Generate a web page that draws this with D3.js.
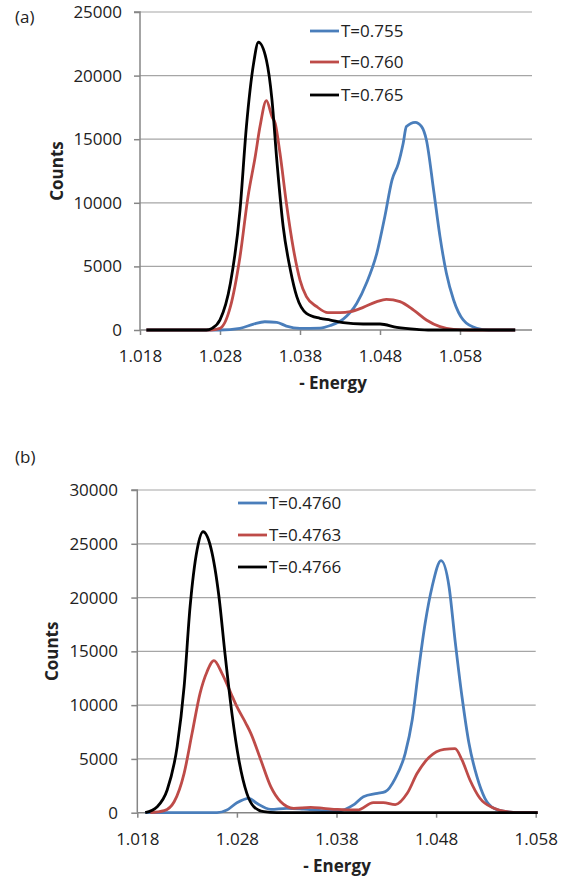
<!DOCTYPE html>
<html><head><meta charset="utf-8">
<script src="https://cdn.jsdelivr.net/npm/d3@7"></script>
<style>
body{margin:0;background:#fff;}
svg{display:block;}
text{font-family:"Open Sans",sans-serif;fill:#222;}
</style></head>
<body>
<svg id="c" width="567" height="877"></svg>
<script>
// ---------- data (a) ----------
const xTicksA = [1.018, 1.028, 1.038, 1.048, 1.058];
const yTicksA = [0, 5000, 10000, 15000, 20000, 25000];
const labelsA = ["T=0.755", "T=0.760", "T=0.765"];
const blueA = [[1.0188,0],[1.028,0],[1.0305,130],[1.0322,470],[1.0336,650],[1.0351,600],[1.0363,310],[1.038,130],[1.0405,150],[1.0418,350],[1.0434,850],[1.0451,2100],[1.0463,3670],[1.0476,6030],[1.0486,8910],[1.0495,11790],[1.0503,13100],[1.0509,14680],[1.0513,15990],[1.0524,16330],[1.0532,15990],[1.0538,14940],[1.0547,11010],[1.0555,7340],[1.0563,4460],[1.0572,2360],[1.0584,790],[1.0601,130],[1.0616,0],[1.0649,0]];
const redA = [[1.0188,0],[1.0268,0],[1.028,130],[1.0293,1830],[1.0305,5760],[1.0315,10480],[1.0324,13620],[1.033,15990],[1.0338,18030],[1.0345,16770],[1.0349,16250],[1.0355,13890],[1.0363,9960],[1.0372,6290],[1.038,3930],[1.0388,2620],[1.0401,1830],[1.0415,1360],[1.043,1360],[1.0443,1440],[1.0459,1780],[1.0476,2230],[1.0488,2410],[1.0505,2230],[1.0522,1570],[1.0538,790],[1.0555,260],[1.0572,50],[1.0593,0],[1.0649,0]];
const blackA = [[1.0188,0],[1.0263,0],[1.027,130],[1.028,790],[1.0293,3670],[1.0305,9430],[1.0313,15990],[1.0322,20960],[1.0328,22620],[1.0338,21230],[1.0345,18080],[1.0351,13360],[1.0359,8120],[1.0368,4720],[1.0376,2620],[1.0388,1310],[1.0405,920],[1.0418,780],[1.0434,580],[1.0459,470],[1.048,470],[1.0501,210],[1.0526,50],[1.054,0],[1.0649,0]];

// ---------- data (b) ----------
const xTicksB = [1.018, 1.028, 1.038, 1.048, 1.058];
const yTicksB = [0, 5000, 10000, 15000, 20000, 25000, 30000];
const labelsB = ["T=0.4760", "T=0.4763", "T=0.4766"];
const blueB = [[1.0188,0],[1.026,0],[1.027,250],[1.028,930],[1.0292,1340],[1.03,870],[1.0314,310],[1.033,410],[1.0347,330],[1.0367,190],[1.0381,150],[1.0397,720],[1.0407,1490],[1.0421,1800],[1.0429,1960],[1.0439,3200],[1.0449,5520],[1.0456,8620],[1.0462,12960],[1.0469,17610],[1.0476,21010],[1.0485,23430],[1.0493,21010],[1.0499,16050],[1.0506,10780],[1.0513,6450],[1.0521,3350],[1.0529,1340],[1.0538,410],[1.0551,90],[1.0568,0],[1.0582,0]];
const redB = [[1.0193,0],[1.0207,190],[1.0217,1020],[1.0227,3660],[1.0235,7380],[1.0243,11100],[1.025,13110],[1.0257,14130],[1.0265,12960],[1.0274,11100],[1.028,9860],[1.0289,8310],[1.0294,7380],[1.0304,4900],[1.0314,2420],[1.0324,1020],[1.0337,410],[1.0354,500],[1.0367,410],[1.0381,300],[1.0401,250],[1.0417,930],[1.0427,930],[1.0439,750],[1.0451,1800],[1.0461,3660],[1.0473,5150],[1.0488,5890],[1.0499,5950],[1.0506,4900],[1.0514,3040],[1.0524,1340],[1.0538,410],[1.0551,90],[1.0568,0],[1.0582,0]];
const blackB = [[1.0188,0],[1.02,560],[1.021,2110],[1.022,6140],[1.0227,11710],[1.0233,19150],[1.024,24420],[1.0246,26120],[1.0254,24580],[1.0262,20080],[1.0268,14820],[1.0275,9240],[1.0282,4900],[1.029,1800],[1.0297,560],[1.0307,90],[1.032,0],[1.0582,0]];

const colors = ["#4a7ebb", "#be4b48", "#000000"];

const svg = d3.select("#c");

function drawChart(cfg) {
  const g = svg.append("g");
  const x = d3.scaleLinear().domain(cfg.xDomain).range([cfg.left, cfg.right]);
  const y = d3.scaleLinear().domain(cfg.yDomain).range([cfg.bottom, cfg.top]);

  // gridlines
  g.append("g").selectAll("line").data(cfg.yTicks.filter(d => d > 0)).join("line")
    .attr("x1", cfg.left).attr("x2", cfg.right)
    .attr("y1", d => y(d)).attr("y2", d => y(d))
    .attr("stroke", "#a6a6a6").attr("stroke-width", 1.2);

  // y axis
  const yAxis = d3.axisLeft(y).tickValues(cfg.yTicks).tickSize(6).tickPadding(12).tickFormat(d3.format("d"));
  const ya = g.append("g").attr("transform", `translate(${cfg.left},0)`).call(yAxis);
  ya.select(".domain").attr("stroke", "#868686").attr("stroke-width", 1.5).attr("d", `M-6,${y(cfg.yDomain[1])}H0V${cfg.bottom}`);
  ya.selectAll(".tick line").attr("stroke", "#868686").attr("stroke-width", 1.5);
  ya.selectAll(".tick text").attr("font-size", 17).attr("font-family", "Open Sans").attr("fill", "#222").attr("x", cfg.yLabelX - cfg.left);

  // x axis
  const xAxis = d3.axisBottom(x).tickValues(cfg.xTicks).tickSize(5).tickPadding(14).tickFormat(d3.format(".3f"));
  const xa = g.append("g").attr("transform", `translate(0,${cfg.bottom})`).call(xAxis);
  xa.select(".domain").attr("stroke", "#868686").attr("stroke-width", 1.5).attr("d", `M${cfg.left},0H${cfg.right}`);
  xa.selectAll(".tick line").attr("stroke", "#868686").attr("stroke-width", 1.5);
  xa.selectAll(".tick text").attr("font-size", 17).attr("font-family", "Open Sans").attr("fill", "#222")
    .attr("y", cfg.xLabelY - cfg.bottom).attr("dy", "0.35em");

  // series
  const line = d3.line().x(d => x(d[0])).y(d => y(d[1])).curve(d3.curveMonotoneX);
  cfg.series.forEach((s, i) => {
    g.append("path").datum(s).attr("d", line).attr("fill", "none")
      .attr("stroke", colors[i]).attr("stroke-width", 2.8).attr("stroke-linejoin", "round");
  });

  // legend
  cfg.labels.forEach((lab, i) => {
    const ly = cfg.legY[i];
    g.append("line").attr("x1", cfg.legX).attr("x2", cfg.legX + 29).attr("y1", ly).attr("y2", ly)
      .attr("stroke", colors[i]).attr("stroke-width", 2.8);
    g.append("text").attr("x", cfg.legX + 31).attr("y", ly).attr("dy", "0.35em")
      .attr("font-size", 17).text(lab);
  });

  // titles
  g.append("text").attr("transform", `translate(${cfg.yTitleX},${(cfg.top + cfg.bottom) / 2}) rotate(-90)`)
    .attr("text-anchor", "middle").attr("dy", "0.35em").attr("font-size", 17).attr("font-weight", "bold").text("Counts");
  g.append("text").attr("x", cfg.xTitleX).attr("y", cfg.xTitleY).attr("dy", "0.35em")
    .attr("text-anchor", "middle").attr("font-size", 17).attr("font-weight", "bold").text("- Energy");
  g.append("text").attr("x", 15).attr("y", cfg.panelY).attr("dy", "0.35em").attr("font-size", 17).text(cfg.panel);
}

drawChart({
  xDomain: [1.018, 1.067], yDomain: [0, 25000],
  left: 140, right: 532, top: 12, bottom: 330,
  xTicks: xTicksA, yTicks: yTicksA, labels: labelsA,
  series: [blueA, redA, blackA],
  yLabelX: 122, xLabelY: 356,
  legX: 310, legY: [31, 62, 95],
  yTitleX: 57, xTitleX: 333, xTitleY: 383,
  panel: "(a)", panelY: 17
});

drawChart({
  xDomain: [1.018, 1.058], yDomain: [0, 30000],
  left: 137.3, right: 535.7, top: 490, bottom: 812.7,
  xTicks: xTicksB, yTicks: yTicksB, labels: labelsB,
  series: [blueB, redB, blackB],
  yLabelX: 118, xLabelY: 839,
  legX: 238, legY: [503, 535, 567],
  yTitleX: 52, xTitleX: 337, xTitleY: 866,
  panel: "(b)", panelY: 457
});
</script>
</body></html>
